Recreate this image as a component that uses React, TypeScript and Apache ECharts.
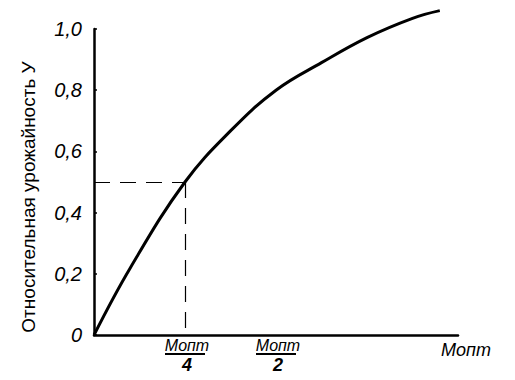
import React, { useEffect, useRef } from "react";
import * as echarts from "echarts";

// Relative fertilizer dose (fraction of M_opt) and relative yield
const doseX = [0, 0.1, 0.25, 0.375, 0.5, 0.625, 0.75, 0.875, 0.95];
const yieldY = [0, 0.22, 0.5, 0.667, 0.8, 0.89, 0.972, 1.035, 1.06];
const yTicks = [0, 0.2, 0.4, 0.6, 0.8, 1.0];
const markX = 0.25;
const markY = 0.5;
const yAxisTitle = "Относительная урожайность У";

export default function App() {
  const ref = useRef<HTMLDivElement>(null);
  useEffect(() => {
    if (!ref.current) return;
    const chart = echarts.init(ref.current, undefined, { renderer: "svg" });
    const font = "'Liberation Sans', 'DejaVu Sans', sans-serif";
    chart.setOption({
      animation: false,
      backgroundColor: "#fff",
      grid: { left: 94, right: 57, top: 29, bottom: 45 },
      xAxis: {
        type: "value",
        min: 0,
        max: 1,
        interval: 0.25,
        splitLine: { show: false },
        axisTick: { show: false },
        axisLine: { lineStyle: { color: "#000", width: 2.5 } },
        axisLabel: {
          margin: 2,
          color: "#000",
          fontFamily: font,
          showMinLabel: true,
          showMaxLabel: true,
          formatter: (v: number) => {
            if (Math.abs(v - 0.25) < 1e-6) return "{num|Мопт}\n{bar| }\n{den|4}";
            if (Math.abs(v - 0.5) < 1e-6) return "{num|Мопт}\n{bar| }\n{den|2}";
            if (Math.abs(v - 1) < 1e-6) return "{full|Мопт}";
            return "";
          },
          rich: {
            num: { fontSize: 16, fontStyle: "italic", fontFamily: font, color: "#000", lineHeight: 16, padding: [0, 0, 0, 4] },
            bar: { fontSize: 1, lineHeight: 2, height: 2, width: 36, backgroundColor: "#000", padding: [0, 0, 0, 4] },
            den: { fontSize: 18, fontStyle: "italic", fontWeight: "bold", fontFamily: font, color: "#000", lineHeight: 20, padding: [0, 0, 0, 4] },
            full: { fontSize: 18, fontStyle: "italic", fontFamily: font, color: "#000", lineHeight: 26, padding: [0, 0, 0, 16] },
          },
        },
      },
      yAxis: {
        type: "value",
        min: 0,
        max: 1,
        interval: 0.2,
        splitLine: { show: false },
        axisTick: { show: true, inside: true, length: 3, lineStyle: { color: "#000", width: 1.5 } },
        axisLine: { show: true, lineStyle: { color: "#000", width: 2.5 } },
        axisLabel: {
          margin: 12,
          color: "#000",
          fontSize: 20,
          fontStyle: "italic",
          fontFamily: font,
          formatter: (v: number) => {
            const t = yTicks.find((k) => Math.abs(k - v) < 1e-6);
            if (t === undefined) return "";
            return t === 0 ? "0" : t.toFixed(1).replace(".", ",");
          },
        },
      },
      graphic: [
        {
          type: "text",
          x: 28,
          y: 197,
          rotation: Math.PI / 2,
          style: {
            text: yAxisTitle,
            fontSize: 19,
            fontFamily: font,
            fill: "#000",
            align: "center",
            verticalAlign: "middle",
          },
        },
      ],
      series: [
        {
          type: "line",
          data: doseX.map((x, i) => [x, yieldY[i]]),
          smooth: 0.4,
          clip: false,
          showSymbol: false,
          lineStyle: { color: "#000", width: 3 },
          markLine: {
            silent: true,
            symbol: "none",
            label: { show: false },
            lineStyle: { color: "#000", width: 1.2, type: [16, 10] },
            data: [
              [{ coord: [0, markY] }, { coord: [markX, markY] }],
              [{ coord: [markX, markY] }, { coord: [markX, 0] }],
            ],
          },
        },
      ],
    });
    return () => chart.dispose();
  }, []);
  return (
    <div
      ref={ref}
      style={{ position: "fixed", left: 0, top: 0, width: 515, height: 380 }}
    />
  );
}
